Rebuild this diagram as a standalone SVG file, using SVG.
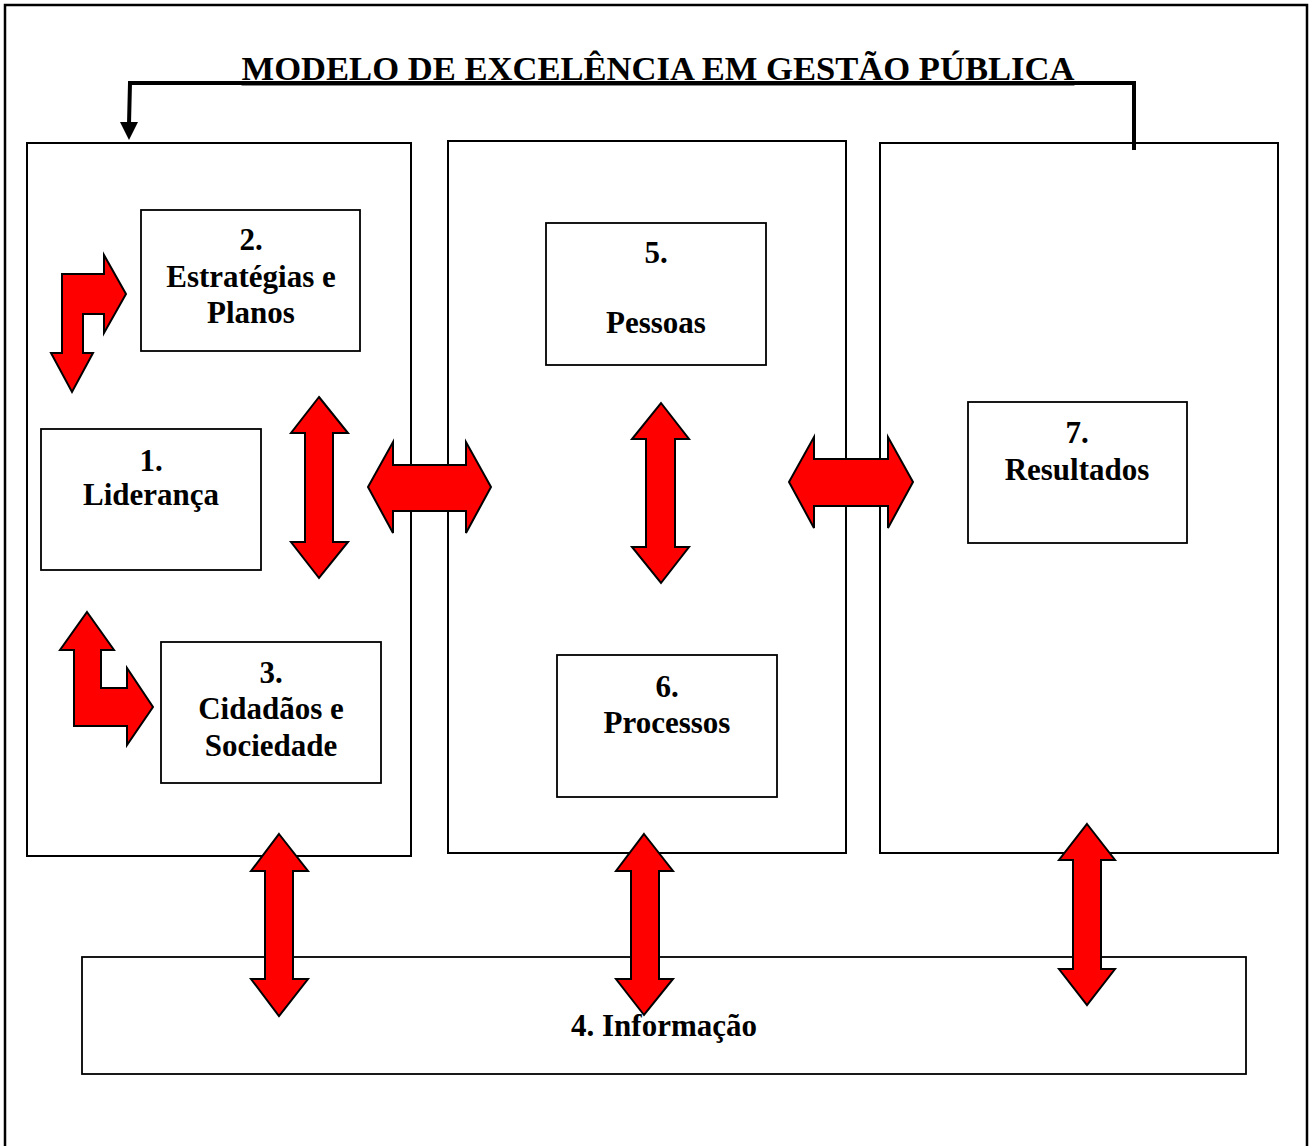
<svg xmlns="http://www.w3.org/2000/svg" width="1311" height="1146" viewBox="0 0 1311 1146">
<style>
.frame{fill:none;stroke:#000;stroke-width:2.5}
.panel{fill:#fff;stroke:#000;stroke-width:2}
.box{fill:#fff;stroke:#000;stroke-width:1.8}
.t{font-family:"Liberation Serif","Times New Roman",serif;font-weight:bold;font-size:31px;fill:#000;text-anchor:middle}
.title{font-family:"Liberation Serif","Times New Roman",serif;font-weight:bold;font-size:34.6px;fill:#000;text-anchor:middle;text-decoration:underline}
.arr{fill:#ff0000;stroke:#000;stroke-width:2;stroke-linejoin:miter}
.conn{fill:none;stroke:#000;stroke-width:4}
</style>
<rect x="0" y="0" width="1311" height="1146" fill="#fff"/>
<rect class="frame" x="5" y="5" width="1302" height="1170"/>
<text class="title" x="658" y="80">MODELO DE EXCELÊNCIA EM GESTÃO PÚBLICA</text>

<g id="panel-left"><rect class="panel" x="27" y="143" width="384" height="713"/></g>
<g id="panel-middle"><rect class="panel" x="448" y="141" width="398" height="712"/></g>
<g id="panel-right"><rect class="panel" x="880" y="143" width="398" height="710"/></g>

<g id="node-2"><rect class="box" x="141" y="210" width="219" height="141"/>
<text class="t" x="251" y="250">2.</text><text class="t" x="251" y="287">Estratégias e</text><text class="t" x="251" y="323">Planos</text></g>
<g id="node-1"><rect class="box" x="41" y="429" width="220" height="141"/>
<text class="t" x="151" y="471">1.</text><text class="t" x="151" y="505">Liderança</text></g>
<g id="node-3"><rect class="box" x="161" y="642" width="220" height="141"/>
<text class="t" x="271" y="683">3.</text><text class="t" x="271" y="719">Cidadãos e</text><text class="t" x="271" y="756">Sociedade</text></g>
<g id="node-5"><rect class="box" x="546" y="223" width="220" height="142"/>
<text class="t" x="656" y="263">5.</text><text class="t" x="656" y="333">Pessoas</text></g>
<g id="node-6"><rect class="box" x="557" y="655" width="220" height="142"/>
<text class="t" x="667" y="697">6.</text><text class="t" x="667" y="733">Processos</text></g>
<g id="node-7"><rect class="box" x="968" y="402" width="219" height="141"/>
<text class="t" x="1077" y="443">7.</text><text class="t" x="1077" y="480">Resultados</text></g>
<g id="node-4"><rect class="box" x="82" y="957" width="1164" height="117"/>
<text class="t" x="664" y="1036">4. Informação</text></g>

<g id="connectors">
<polyline class="conn" points="1134,150 1134,83 130,83 129,124"/>
<polygon fill="#000" points="120,122 138,122 129,140"/>
<path class="arr" d="M62,274 L104,274 L104,255 L126,294 L104,333 L104,314 L83,314 L83,353 L93,353 L72,392 L51,353 L62,353 Z"/>
<path class="arr" d="M87,612 L114,650 L101,650 L101,688 L127,688 L127,668 L153,707 L127,745 L127,726 L74,726 L74,650 L60,650 Z"/>
<path class="arr" d="M319,397 L348,433 L333,433 L333,542 L348,542 L319,578 L291,542 L305,542 L305,433 L291,433 Z"/>
<path class="arr" d="M368,487 L393,442 L393,465 L466,465 L466,442 L491,487 L466,533 L466,511 L393,511 L393,533 Z"/>
<path class="arr" d="M661,403 L689,439 L675,439 L675,547 L689,547 L661,583 L632,547 L646,547 L646,439 L632,439 Z"/>
<path class="arr" d="M789,482 L814,437 L814,459 L888,459 L888,437 L913,482 L888,528 L888,506 L814,506 L814,528 Z"/>
<path class="arr" d="M279,834 L308,871 L293,871 L293,979 L308,979 L279,1016 L251,979 L265,979 L265,871 L251,871 Z"/>
<path class="arr" d="M644,834 L673,871 L659,871 L659,979 L673,979 L644,1015 L616,979 L631,979 L631,871 L616,871 Z"/>
<path class="arr" d="M1087,824 L1115,860 L1101,860 L1101,969 L1115,969 L1087,1005 L1059,969 L1073,969 L1073,860 L1059,860 Z"/>
</g>
</svg>
